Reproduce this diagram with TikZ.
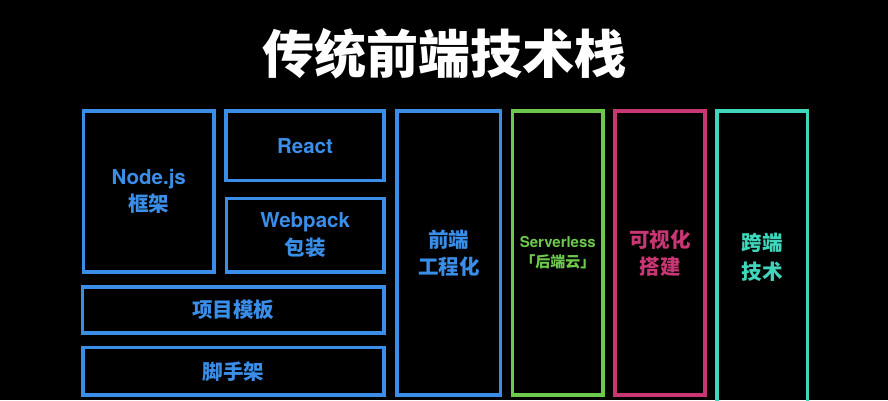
\documentclass[tikz,border=0pt]{standalone}
\usepackage{fontspec}
\setmainfont{Noto Sans CJK SC}
\newfontfamily\lat{texgyreheros-bold.otf}[BoldFont=texgyreheros-bold.otf]
\definecolor{bluec}{HTML}{3A8EE8}
\definecolor{greenc}{HTML}{6DC94B}
\definecolor{pinkc}{HTML}{C93674}
\definecolor{tealc}{HTML}{40D6BC}
\begin{document}
\begin{tikzpicture}[x=1pt,y=-1pt,
  box/.style={draw=#1, text=#1, line width=3.5pt, inner sep=0pt, align=center,
    font=\fontsize{20.5}{27.5}\selectfont\bfseries},
  smallbox/.style={box=#1, font=\fontsize{15}{20}\selectfont\bfseries}]
\fill[black] (0,0) rectangle (888,400);
\useasboundingbox (0,0) rectangle (888,400);
\node[text=white, font=\fontsize{52}{60}\selectfont\bfseries] (title) at (444,54) {传统前端技术栈};
\node[box=bluec, minimum width=130.5pt, minimum height=161pt] (nodejs) at (148.75,191.5) {{\lat Node.js}\\框架};
\node[box=bluec, minimum width=158pt, minimum height=69.5pt] (react) at (305,145.75) {\lat React};
\node[box=bluec, minimum width=157.5pt, minimum height=73.5pt] (webpack) at (305.25,235.25) {{\lat Webpack}\\包装};
\node[box=bluec, minimum width=301.5pt, minimum height=46pt] (tpl) at (233.25,310) {项目模板};
\node[box=bluec, minimum width=301pt, minimum height=47.5pt] (cli) at (233.5,371.25) {脚手架};
\node[box=bluec, minimum width=103.5pt, minimum height=284pt] (eng) at (448.75,253) {前端\\工程化};
\node[smallbox=greenc, minimum width=90.5pt, minimum height=284pt] (sls) at (557.75,253) {{\lat Serverless}\\「后端云」};
\node[box=pinkc, minimum width=90pt, minimum height=284pt] (vis) at (660,253) {可视化\\搭建};
\node[box=tealc, minimum width=90.5pt, minimum height=299pt] (cross) at (762.25,260.5) {\raisebox{9pt}{\shortstack{跨端\\[6pt]技术}}};
\end{tikzpicture}
\end{document}
